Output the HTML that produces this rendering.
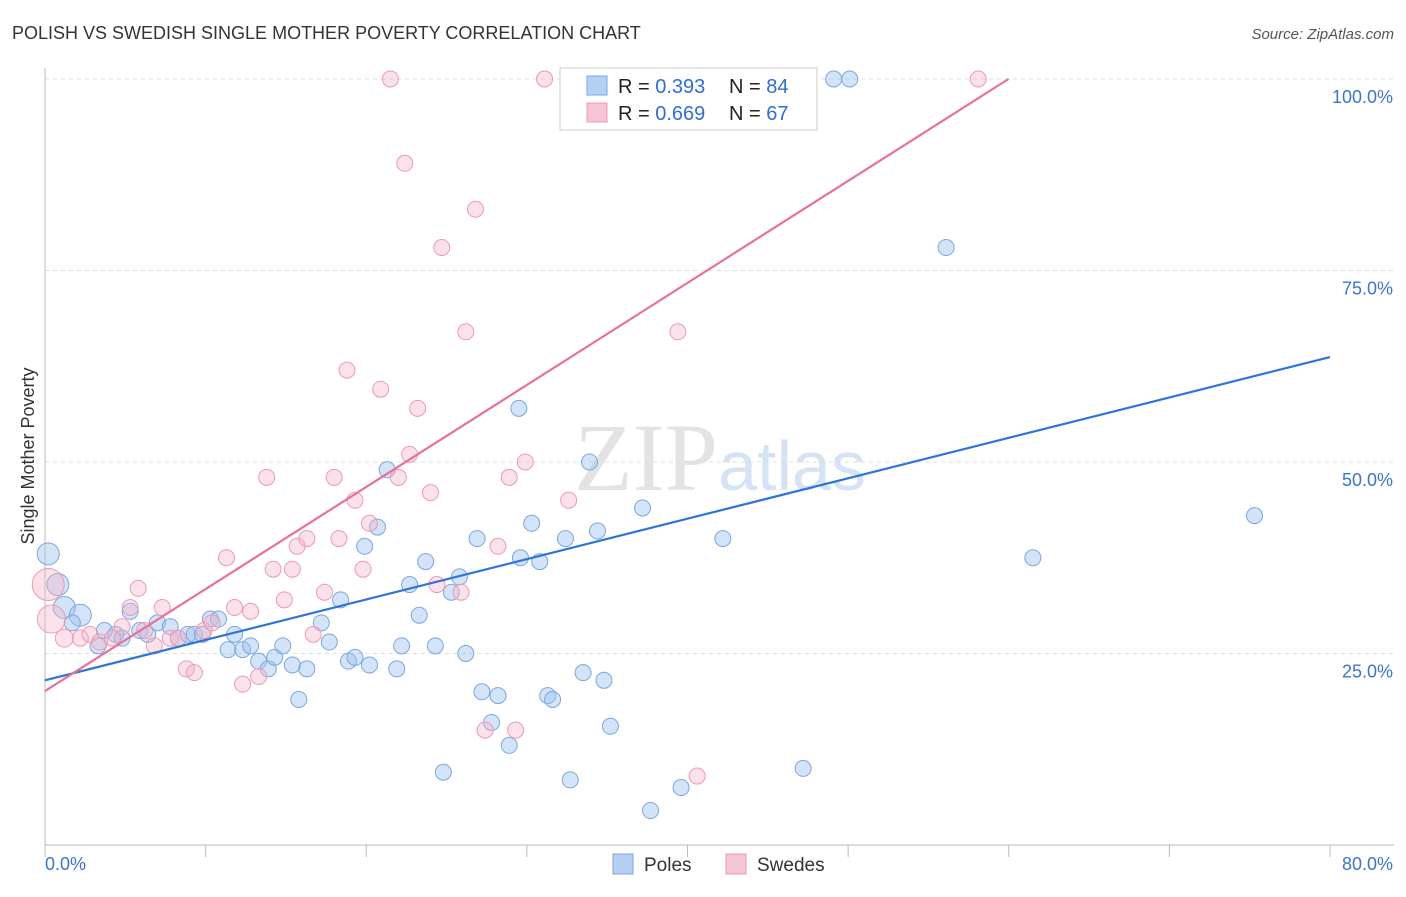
<!DOCTYPE html>
<html><head><meta charset="utf-8"><style>
body{margin:0;background:#fff;font-family:"Liberation Sans",sans-serif;}
</style></head><body>
<svg id="chart" width="1406" height="892" xmlns="http://www.w3.org/2000/svg" font-family="Liberation Sans, sans-serif">
<text x="12" y="39" font-size="18" fill="#333">POLISH VS SWEDISH SINGLE MOTHER POVERTY CORRELATION CHART</text>
<text x="1394" y="39" font-size="15" fill="#555" text-anchor="end" font-style="italic">Source: ZipAtlas.com</text>
<text x="720" y="490" font-size="96" fill="#d8d8d8" text-anchor="middle" font-family="Liberation Serif, serif" opacity="0.7">ZIP<tspan fill="#c5d8f0" font-family="Liberation Sans, sans-serif" font-size="70">atlas</tspan></text>
<g id="grid"></g><g id="axes"></g><g id="pts"></g><g id="lines"></g>
<text transform="translate(34,456) rotate(-90)" font-size="18" fill="#333" text-anchor="middle">Single Mother Poverty</text>
<g>
<rect x="560" y="68" width="257" height="62" fill="#fff" stroke="#ccc"/>
<rect x="587" y="76" width="20" height="19" fill="#b5d0f2" stroke="#7aa6e0"/>
<rect x="587" y="103" width="20" height="19" fill="#f7c4d4" stroke="#ee99b4"/>
<text x="618" y="93" font-size="20" fill="#222">R = <tspan fill="#2f6fd0">0.393</tspan></text>
<text x="729" y="93" font-size="20" fill="#222">N = <tspan fill="#2f6fd0">84</tspan></text>
<text x="618" y="120" font-size="20" fill="#222">R = <tspan fill="#2f6fd0">0.669</tspan></text>
<text x="729" y="120" font-size="20" fill="#222">N = <tspan fill="#2f6fd0">67</tspan></text>
</g>
<g>
<rect x="613" y="854" width="20" height="20" fill="#b5d0f2" stroke="#7aa6e0"/>
<text x="644" y="871" font-size="19" fill="#333">Poles</text>
<rect x="726" y="854" width="20" height="20" fill="#f7c4d4" stroke="#ee99b4"/>
<text x="757" y="871" font-size="19" fill="#333">Swedes</text>
</g>
</svg>
<script>
const xTicks=[0,10,20,30,40,50,60,70,80];
const yTicks=[25,50,75,100];
const polesX=[0.2,0.8,1.2,2.2,1.7,3.3,3.7,4.4,4.8,5.3,5.9,6.4,7.0,7.8,8.3,8.9,9.3,9.8,10.3,10.8,11.4,11.8,12.3,12.8,13.3,13.9,14.3,14.8,15.4,15.8,16.3,17.2,17.7,18.4,18.9,19.3,19.9,20.2,20.7,21.3,21.9,22.2,22.7,23.3,23.7,24.3,24.8,25.3,25.8,26.2,26.9,27.2,27.8,28.2,28.9,29.5,29.6,30.3,30.8,31.3,31.6,32.4,32.7,33.5,33.9,34.4,34.8,35.2,37.2,37.7,39.6,42.2,47.2,49.1,50.1,56.1,61.5,75.3,36.1,43.1];
const polesY=[38,34,31,30,29,26,28,27.5,27,30.5,28,27.5,29,28.5,27,27.5,27.5,27.5,29.5,29.5,25.5,27.5,25.5,26,24,23,24.5,26,23.5,19,23,29,26.5,32,24,24.5,39,23.5,41.5,49,23,26,34,30,37,26,9.5,33,35,25,40,20,16,19.5,13,57,37.5,42,37,19.5,19,40,8.5,22.5,50,41,21.5,15.5,44,4.5,7.5,40,10,100,100,78,37.5,43,100,100];
const polesR=[11,11,11,11,8,8,8,8,8,8,8,8,8,8,8,8,8,8,8,8,8,8,8,8,8,8,8,8,8,8,8,8,8,8,8,8,8,8,8,8,8,8,8,8,8,8,8,8,8,8,8,8,8,8,8,8,8,8,8,8,8,8,8,8,8,8,8,8,8,8,8,8,8,8,8,8,8,8,8,8];
const swedesX=[0.2,0.4,1.2,2.2,2.8,3.4,4.2,4.8,5.3,5.8,6.2,6.8,7.3,7.8,8.3,8.8,9.3,9.9,10.4,11.3,11.8,12.3,12.8,13.3,13.8,14.2,14.9,15.4,15.7,16.3,16.7,17.4,18.0,18.3,18.8,19.3,19.8,20.2,20.9,21.5,22.0,22.4,22.7,23.2,24.0,24.4,24.7,25.9,26.2,26.8,27.4,28.2,28.9,29.3,29.9,31.1,32.6,37.7,39.4,40.6,45.1,58.1,43.0];
const swedesY=[34,29.5,27,27,27.5,26.5,27,28.5,31,33.5,28,26,31,27,27,23,22.5,28,29,37.5,31,21,30.5,22,48,36,32,36,39,40,27.5,33,48,40,62,45,36,42,59.5,100,48,89,51,57,46,34,78,33,67,83,15,39,48,15,50,100,45,100,67,9,100,100,100];
const swedesR=[16,14,9,8,8,8,8,8,8,8,8,8,8,8,8,8,8,8,8,8,8,8,8,8,8,8,8,8,8,8,8,8,8,8,8,8,8,8,8,8,8,8,8,8,8,8,8,8,8,8,8,8,8,8,8,8,8,8,8,8,8,8,8];
const polesLine=[21.5,63.7];
const swedesLine=[20.1,1.332];
const NS="http://www.w3.org/2000/svg";
const X0=45,X1=1330,Y0=845,Y100=79;
const sx=v=>X0+(X1-X0)*v/80;
const sy=v=>Y0-(Y0-Y100)*v/100;
function mk(tag,attrs,parent){const e=document.createElementNS(NS,tag);for(const k in attrs)e.setAttribute(k,attrs[k]);parent.appendChild(e);return e;}
const grid=document.getElementById('grid'),axes=document.getElementById('axes');
yTicks.forEach(t=>{
 const l=mk('line',{x1:X0,x2:1394,y1:sy(t),y2:sy(t),stroke:'#ddd','stroke-dasharray':'4,4'},grid);
 
 
 const tx=mk('text',{x:1393,y:sy(t)+24,'font-size':18,fill:'#3d74cc','text-anchor':'end'},axes);
 tx.textContent=t.toFixed(1)+'%';
 
 
});
const xa=mk('line',{x1:X0,x2:1394,y1:Y0,y2:Y0,stroke:'#bbb'},axes);


const ya=mk('line',{x1:X0,x2:X0,y1:68,y2:Y0,stroke:'#bbb'},axes);


xTicks.forEach(t=>{
 const l=mk('line',{x1:sx(t),x2:sx(t),y1:Y0,y2:Y0+12,stroke:'#bbb'},axes);
 
 
});
[[0,'start',45],[80,'end',1393]].forEach(([t,a,x])=>{
 const tx=mk('text',{x:x,y:870,'font-size':18,fill:'#3d74cc','text-anchor':a},axes);
 tx.textContent=t.toFixed(1)+'%';
 
 
});
const pts=document.getElementById('pts');
polesX.forEach((v,i)=>{
 const c=mk('circle',{cx:sx(v),cy:sy(polesY[i]),r:polesR[i],fill:'rgba(160,195,240,0.45)',stroke:'#7aa6e0','stroke-width':1},pts);
 
 
});
swedesX.forEach((v,i)=>{
 const c=mk('circle',{cx:sx(v),cy:sy(swedesY[i]),r:swedesR[i],fill:'rgba(245,180,200,0.4)',stroke:'#ee99b4','stroke-width':1},pts);
 
 
});
const lines=document.getElementById('lines');
const bl=mk('line',{x1:sx(0),y1:sy(polesLine[0]),x2:sx(80),y2:sy(polesLine[1]),stroke:'#2f74d6','stroke-width':2.2},lines);


const xe=(100-swedesLine[0])/swedesLine[1];
const pl=mk('line',{x1:sx(0),y1:sy(swedesLine[0]),x2:sx(xe),y2:sy(100),stroke:'#e8709a','stroke-width':2.2},lines);


</script>
</body></html>
